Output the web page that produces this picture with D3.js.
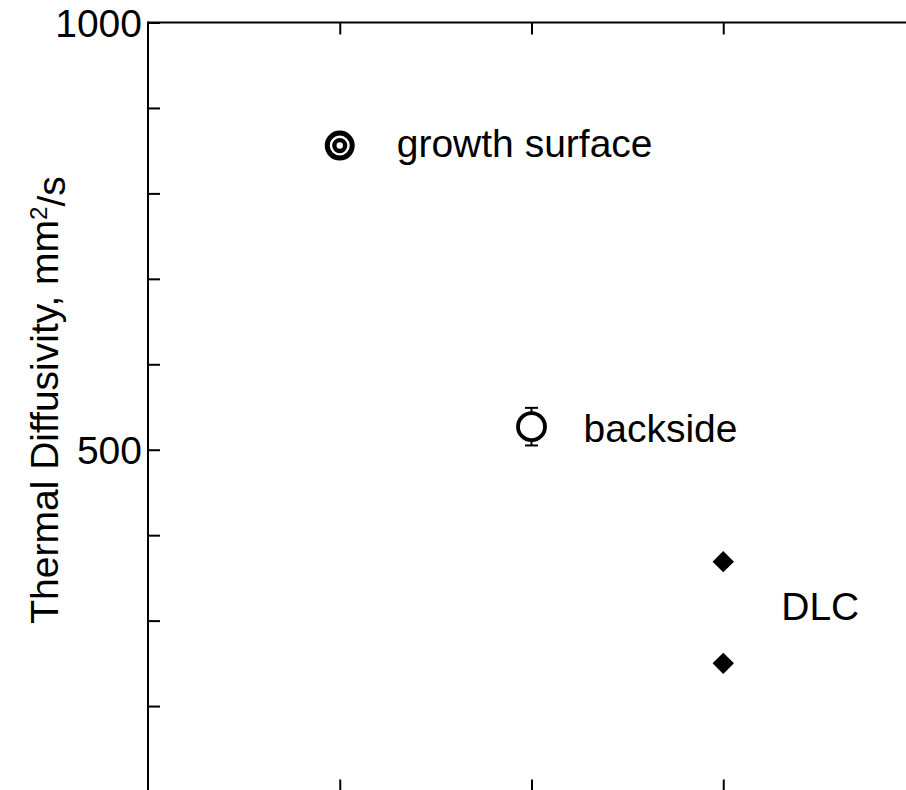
<!DOCTYPE html>
<html>
<head>
<meta charset="utf-8">
<script src="https://cdn.jsdelivr.net/npm/d3@7"></script>
<style>
  html, body { margin: 0; padding: 0; background: #fff; }
  svg { display: block; }
  text { font-family: "Liberation Sans", Arial, Helvetica, sans-serif; fill: #000; }
</style>
</head>
<body>
<svg id="chart" width="906" height="790"></svg>
<script>
// Sample groups along the x axis (positions 1..3)
const categories = ["growth surface", "backside", "DLC"];
const categoryPos = [1, 2, 3];

// Thermal diffusivity values, mm^2/s
const growthValues = [856];
const backsideValues = [527];
const backsideErrors = [22];
const dlcValues = [369, 250];

// Y axis ticks and the ones that carry labels
const yTicks = [100, 200, 300, 400, 500, 600, 700, 800, 900, 1000];
const yTickLabels = [500, 1000];
const xTicks = [1, 2, 3];

const svg = d3.select("#chart");

const x = d3.scaleLinear().domain([0, 4]).range([148, 915]);
const y = d3.scaleLinear().domain([100, 1000]).range([791.5, 22.5]);

const axisColor = "#000";
const axisWidth = 2;

// Frame axes with inward ticks
const gLeft = svg.append("g").attr("transform", `translate(${x(0)},0)`)
  .call(d3.axisRight(y).tickValues(yTicks).tickSize(12).tickFormat(""));
const gTop = svg.append("g").attr("transform", `translate(0,${y(1000)})`)
  .call(d3.axisBottom(x).tickValues(xTicks).tickSize(12).tickFormat(""));
const gBottom = svg.append("g").attr("transform", `translate(0,${y(100)})`)
  .call(d3.axisTop(x).tickValues(xTicks).tickSize(12).tickFormat(""));

[gLeft, gTop, gBottom].forEach(g => {
  g.select(".domain").attr("stroke", axisColor).attr("stroke-width", axisWidth);
  g.selectAll(".tick line").attr("stroke", axisColor).attr("stroke-width", axisWidth);
});
// plain lines instead of the path end caps
gLeft.select(".domain").attr("d", `M0,${y(100)}V${y(1000) - 1}`);
[gTop, gBottom].forEach(g => g.select(".domain").attr("d", `M${x(0)},0H${x(4)}`));

// Y tick labels
svg.append("g").selectAll("text")
  .data(yTickLabels)
  .join("text")
  .attr("x", x(0) - 6)
  .attr("y", d => y(d))
  .attr("dy", "0.36em")
  .attr("text-anchor", "end")
  .style("font-size", "39px")
  .text(d => d);

// Y axis title
const yTitle = svg.append("text")
  .attr("transform", `translate(58,400) rotate(-90)`)
  .attr("text-anchor", "middle")
  .style("font-size", "39px");
yTitle.append("tspan").text("Thermal Diffusivity, mm");
yTitle.append("tspan").attr("dy", "-0.45em").style("font-size", "24px").text("2");
yTitle.append("tspan").attr("dy", "0.45em").text("/s");

// growth surface: bullseye marker
const gGrowth = svg.append("g");
gGrowth.selectAll("circle.outer").data(growthValues).join("circle")
  .attr("class", "outer")
  .attr("cx", x(categoryPos[0])).attr("cy", d => y(d)).attr("r", 12.5)
  .attr("fill", "none").attr("stroke", "#000").attr("stroke-width", 5);
gGrowth.selectAll("circle.inner").data(growthValues).join("circle")
  .attr("class", "inner")
  .attr("cx", x(categoryPos[0])).attr("cy", d => y(d)).attr("r", 5.4)
  .attr("fill", "none").attr("stroke", "#000").attr("stroke-width", 4.4);

// backside: open circle with error bar
const gBack = svg.append("g");
const backData = backsideValues.map((v, i) => ({ v, e: backsideErrors[i] }));
gBack.selectAll("line.err").data(backData).join("line")
  .attr("class", "err")
  .attr("x1", x(categoryPos[1])).attr("x2", x(categoryPos[1]))
  .attr("y1", d => y(d.v + d.e)).attr("y2", d => y(d.v - d.e))
  .attr("stroke", "#000").attr("stroke-width", 2);
[1, -1].forEach(s => {
  gBack.selectAll(null).data(backData).join("line")
    .attr("x1", x(categoryPos[1]) - 6.5).attr("x2", x(categoryPos[1]) + 6.5)
    .attr("y1", d => y(d.v + s * d.e)).attr("y2", d => y(d.v + s * d.e))
    .attr("stroke", "#000").attr("stroke-width", 2);
});
gBack.selectAll("circle").data(backData).join("circle")
  .attr("cx", x(categoryPos[1])).attr("cy", d => y(d.v)).attr("r", 13.5)
  .attr("fill", "#fff").attr("stroke", "#000").attr("stroke-width", 3.8);

// DLC: filled diamonds
const diamond = d3.symbol().type(d3.symbolSquare).size(229);
svg.append("g").selectAll("path").data(dlcValues).join("path")
  .attr("d", diamond)
  .attr("transform", d => `translate(${x(categoryPos[2])},${y(d)}) rotate(45)`)
  .attr("fill", "#000");

// Group labels
const labelFont = "39px";
svg.append("text")
  .attr("x", x(categoryPos[0]) + 57).attr("y", y(growthValues[0])).attr("dy", "0.3em")
  .style("font-size", labelFont).text(categories[0]);
svg.append("text")
  .attr("x", x(categoryPos[1]) + 52).attr("y", y(backsideValues[0])).attr("dy", "0.4em")
  .style("font-size", labelFont).text(categories[1]);
svg.append("text")
  .attr("x", x(categoryPos[2]) + 58).attr("y", y(d3.mean(dlcValues))).attr("dy", "0.18em")
  .style("font-size", labelFont).text(categories[2]);
</script>
</body>
</html>
